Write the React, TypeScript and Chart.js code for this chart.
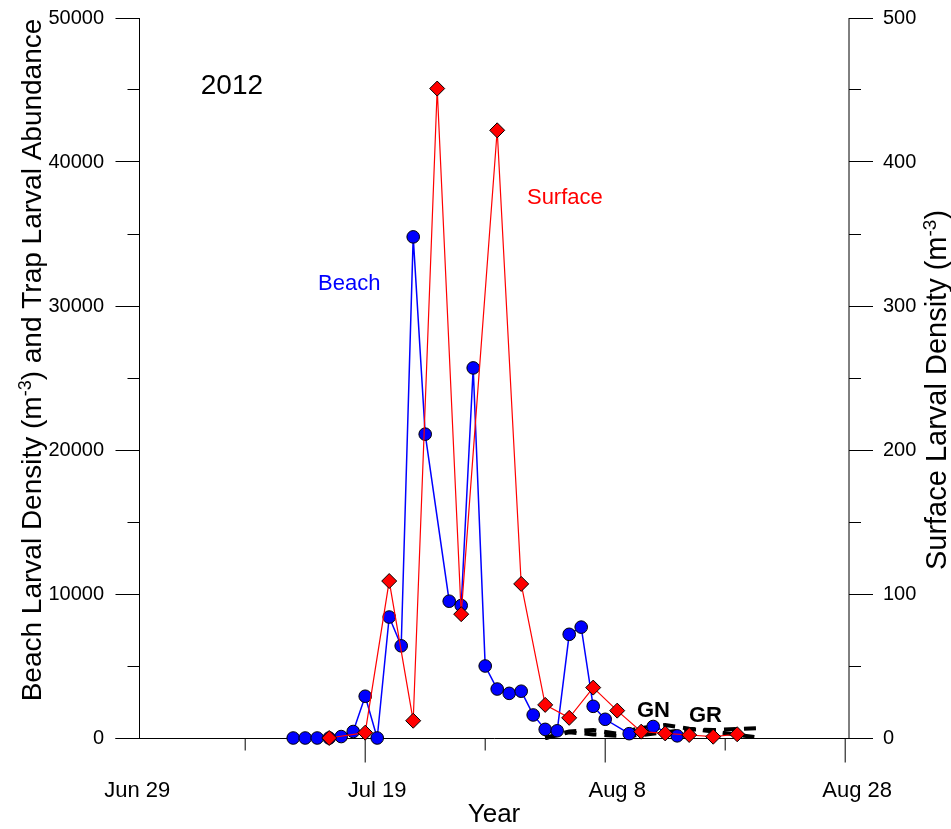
import React, { useEffect, useRef } from 'react';
import { Chart, registerables } from 'chart.js';

Chart.register(...registerables);

const FONT = "'Liberation Sans', Arial, Helvetica, sans-serif";

// x values: days counted from Jun 29, 2012 (day 0)
const xTickDays = [0, 20, 40, 60];
const xTickLabels = ['Jun 29', 'Jul 19', 'Aug 8', 'Aug 28'];
const xMinorDays = [10, 30, 50];

const leftTicks = [0, 10000, 20000, 30000, 40000, 50000];
const leftMinorTicks = [5000, 15000, 25000, 35000, 45000];
const rightTicks = [0, 100, 200, 300, 400, 500];
const rightMinorTicks = [50, 150, 250, 350, 450];

// Beach larval density (m-3), left axis
const beachDays = [14, 15, 16, 17, 18, 19, 20, 21, 22, 23, 24, 25, 27, 28, 29, 30, 31, 32, 33, 34, 35, 36, 37, 38, 39, 40, 42, 44, 46];
const beachValues = [0, 0, 0, 0, 100, 450, 2900, 0, 8400, 6400, 34800, 21100, 9500, 9200, 25700, 5000, 3400, 3100, 3250, 1600, 600, 500, 7200, 7700, 2200, 1300, 300, 800, 150];

// Surface larval density (m-3), right axis
const surfaceDays = [17, 20, 22, 24, 26, 28, 31, 33, 35, 37, 39, 41, 43, 45, 47, 49, 51];
const surfaceValues = [0, 3.7, 109, 12, 451, 86, 422, 107, 23, 14, 35, 19, 4.4, 3.2, 2.1, 0.9, 2.6];

// Trap larval abundance (GN, GR), left axis
const trapDays = [35, 37, 39, 41, 43, 45, 47, 49, 53];
const gnValues = [0, 450, 550, 300, 700, 900, 650, 450, 0];
const grValues = [0, 400, 250, 150, 200, 400, 600, 550, 700];

// Text annotations placed in data coordinates (day, left-axis value)
const noteTexts = ['2012', 'Beach', 'Surface', 'GN', 'GR'];
const noteDays = [6.3, 16.07, 33.48, 42.65, 46.98];
const noteValues = [44720, 31110, 37060, 1480, 1130];
const noteStyles = [
  { color: '#000000', size: 28, weight: 'normal' },
  { color: '#0000ff', size: 22, weight: 'normal' },
  { color: '#ff0000', size: 22, weight: 'normal' },
  { color: '#000000', size: 22, weight: 'bold' },
  { color: '#000000', size: 22, weight: 'bold' },
];

const leftTitleParts = [
  { text: 'Beach Larval Density (m', sup: false },
  { text: '-3', sup: true },
  { text: ') and Trap Larval Abundance', sup: false },
];
const rightTitleParts = [
  { text: 'Surface Larval Density (m', sup: false },
  { text: '-3', sup: true },
  { text: ')', sup: false },
];

const crisp = (v: number) => Math.floor(v) + 0.5;

function drawRichText(
  ctx: CanvasRenderingContext2D,
  parts: { text: string; sup: boolean }[],
  cx: number,
  cy: number,
  size: number,
  supSize: number,
  supRise: number
) {
  ctx.save();
  ctx.translate(cx, cy);
  ctx.rotate(-Math.PI / 2);
  ctx.fillStyle = '#000';
  ctx.textAlign = 'left';
  ctx.textBaseline = 'alphabetic';
  let total = 0;
  const widths = parts.map((p) => {
    ctx.font = `${p.sup ? supSize : size}px ${FONT}`;
    const w = ctx.measureText(p.text).width;
    total += w;
    return w;
  });
  let xx = -total / 2;
  parts.forEach((p, i) => {
    ctx.font = `${p.sup ? supSize : size}px ${FONT}`;
    ctx.fillText(p.text, xx, p.sup ? -supRise : 0);
    xx += widths[i];
  });
  ctx.restore();
}

const decorations = {
  id: 'decorations',
  beforeDatasetsDraw(chart: any) {
    const ctx: CanvasRenderingContext2D = chart.ctx;
    const { x, y, y1 } = chart.scales;
    const area = chart.chartArea;
    ctx.save();
    ctx.strokeStyle = '#000';
    ctx.lineWidth = 1;
    const lx = crisp(area.left);
    const rx = area.right;
    const by = crisp(area.bottom);
    ctx.beginPath();
    // left axis
    ctx.moveTo(lx, area.top);
    ctx.lineTo(lx, area.bottom);
    leftTicks.forEach((v) => {
      const py = crisp(y.getPixelForValue(v));
      ctx.moveTo(lx - 24, py);
      ctx.lineTo(lx, py);
    });
    leftMinorTicks.forEach((v) => {
      const py = crisp(y.getPixelForValue(v));
      ctx.moveTo(lx - 12, py);
      ctx.lineTo(lx, py);
    });
    // right ticks
    rightTicks.forEach((v) => {
      const py = crisp(y1.getPixelForValue(v));
      ctx.moveTo(rx, py);
      ctx.lineTo(rx + 24, py);
    });
    rightMinorTicks.forEach((v) => {
      const py = crisp(y1.getPixelForValue(v));
      ctx.moveTo(rx, py);
      ctx.lineTo(rx + 12, py);
    });
    // bottom axis
    ctx.moveTo(lx - 24, by);
    ctx.lineTo(rx + 24, by);
    xTickDays.forEach((d) => {
      const px = x.getPixelForValue(d);
      if (px < area.left - 0.5 || px > area.right + 0.5) return;
      ctx.moveTo(px, by);
      ctx.lineTo(px, by + 24);
    });
    xMinorDays.forEach((d) => {
      const px = x.getPixelForValue(d);
      ctx.moveTo(px, by);
      ctx.lineTo(px, by + 12);
    });
    ctx.stroke();
    // right axis (softer)
    ctx.beginPath();
    ctx.moveTo(rx, area.top);
    ctx.lineTo(rx, area.bottom);
    ctx.stroke();
    ctx.restore();
  },
  afterDraw(chart: any) {
    const ctx: CanvasRenderingContext2D = chart.ctx;
    const { x, y } = chart.scales;
    ctx.save();
    ctx.textAlign = 'left';
    ctx.textBaseline = 'alphabetic';
    noteTexts.forEach((t, i) => {
      const st = noteStyles[i];
      ctx.font = `${st.weight} ${st.size}px ${FONT}`;
      ctx.fillStyle = st.color;
      ctx.fillText(t, x.getPixelForValue(noteDays[i]), y.getPixelForValue(noteValues[i]));
    });
    ctx.restore();
    drawRichText(ctx, leftTitleParts, 41, 360, 28, 18, 10);
    drawRichText(ctx, rightTitleParts, 946, 390, 29, 19, 10);
  },
};

const hiddenGrid = (len: number) => ({
  display: true,
  drawOnChartArea: false,
  drawTicks: true,
  tickLength: len,
  color: 'rgba(0,0,0,0)',
});

export default function App() {
  const ref = useRef<HTMLCanvasElement | null>(null);
  useEffect(() => {
    document.body.style.margin = '0';
    const canvas = ref.current;
    if (!canvas) return;
    Chart.defaults.font.family = FONT;
    Chart.defaults.color = '#000';
    const chart = new Chart(canvas, {
      type: 'line',
      data: {
        datasets: [
          {
            label: 'Surface',
            data: surfaceDays.map((d, i) => ({ x: d, y: surfaceValues[i] })),
            yAxisID: 'y1',
            borderColor: '#ff0000',
            borderWidth: 1.2,
            pointStyle: 'rectRot',
            pointRadius: 7.5,
            pointBackgroundColor: '#ff0000',
            pointBorderColor: '#000',
            pointBorderWidth: 1,
            tension: 0,
            clip: false,
          } as any,
          {
            label: 'Beach',
            data: beachDays.map((d, i) => ({ x: d, y: beachValues[i] })),
            yAxisID: 'y',
            borderColor: '#0000ff',
            borderWidth: 1.5,
            pointStyle: 'circle',
            pointRadius: 6.3,
            pointBackgroundColor: '#0000ff',
            pointBorderColor: '#000',
            pointBorderWidth: 1,
            tension: 0,
            clip: false,
          } as any,
          {
            label: 'GN',
            data: trapDays.map((d, i) => ({ x: d, y: gnValues[i] })),
            yAxisID: 'y',
            borderColor: '#000',
            borderWidth: 4,
            borderDash: [12, 8],
            pointRadius: 0,
            tension: 0,
            clip: false,
          } as any,
          {
            label: 'GR',
            data: trapDays.map((d, i) => ({ x: d, y: grValues[i] })),
            yAxisID: 'y',
            borderColor: '#000',
            borderWidth: 4,
            borderDash: [12, 8],
            pointRadius: 0,
            tension: 0,
            clip: false,
          } as any,
        ],
      },
      options: {
        responsive: false,
        animation: false,
        devicePixelRatio: 1,
        layout: { padding: { top: 18, left: 0, right: 0, bottom: 0 } },
        plugins: {
          legend: { display: false },
          tooltip: { enabled: false },
          title: { display: false },
        },
        scales: {
          x: {
            type: 'linear',
            position: 'bottom',
            min: 1.15,
            max: 60.317,
            grid: hiddenGrid(35),
            border: { display: false },
            afterBuildTicks: (s: any) => {
              s.ticks = xTickDays.map((v) => ({ value: v }));
            },
            afterFit: (s: any) => {
              s.height = 91;
            },
            ticks: {
              autoSkip: false,
              maxRotation: 0,
              minRotation: 0,
              padding: 5,
              labelOffset: 12,
              font: { size: 22 },
              color: '#000',
              callback: (v: any) => {
                const i = xTickDays.indexOf(Number(v));
                return i >= 0 ? xTickLabels[i] : '';
              },
            },
            title: {
              display: true,
              text: 'Year',
              color: '#000',
              font: { size: 26, lineHeight: 1 },
              padding: { top: 0, bottom: 1 },
            },
          },
          y: {
            type: 'linear',
            position: 'left',
            min: 0,
            max: 50000,
            grid: hiddenGrid(30),
            border: { display: false },
            afterBuildTicks: (s: any) => {
              s.ticks = leftTicks.map((v) => ({ value: v }));
            },
            afterFit: (s: any) => {
              s.width = 139;
            },
            ticks: {
              padding: 5,
              font: { size: 20 },
              color: '#000',
              callback: (v: any) => String(v),
            },
          },
          y1: {
            type: 'linear',
            position: 'right',
            min: 0,
            max: 500,
            grid: hiddenGrid(30),
            border: { display: false },
            afterBuildTicks: (s: any) => {
              s.ticks = rightTicks.map((v) => ({ value: v }));
            },
            afterFit: (s: any) => {
              s.width = 102;
            },
            ticks: {
              padding: 4,
              font: { size: 20 },
              color: '#000',
              callback: (v: any) => String(v),
            },
          },
        },
      } as any,
      plugins: [decorations],
    });
    return () => chart.destroy();
  }, []);
  return <canvas ref={ref} width={951} height={829} style={{ display: 'block' }} />;
}
